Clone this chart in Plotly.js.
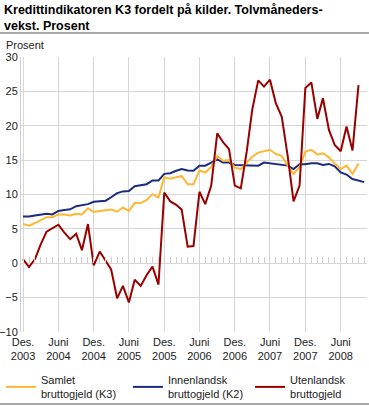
<!DOCTYPE html>
<html>
<head>
<meta charset="utf-8">
<script src="https://cdn.plot.ly/plotly-3.0.1.min.js"></script>
<style>html,body{margin:0;padding:0;background:#fff;}#chart{width:369px;height:407px;}</style>
</head>
<body>
<div id="chart"></div>
<script>
const months = [
  '2003-12-01',
  '2004-01-01','2004-02-01','2004-03-01','2004-04-01','2004-05-01','2004-06-01',
  '2004-07-01','2004-08-01','2004-09-01','2004-10-01','2004-11-01','2004-12-01',
  '2005-01-01','2005-02-01','2005-03-01','2005-04-01','2005-05-01','2005-06-01',
  '2005-07-01','2005-08-01','2005-09-01','2005-10-01','2005-11-01','2005-12-01',
  '2006-01-01','2006-02-01','2006-03-01','2006-04-01','2006-05-01','2006-06-01',
  '2006-07-01','2006-08-01','2006-09-01','2006-10-01','2006-11-01','2006-12-01',
  '2007-01-01','2007-02-01','2007-03-01','2007-04-01','2007-05-01','2007-06-01',
  '2007-07-01','2007-08-01','2007-09-01','2007-10-01','2007-11-01','2007-12-01',
  '2008-01-01','2008-02-01','2008-03-01','2008-04-01','2008-05-01','2008-06-01',
  '2008-07-01','2008-08-01','2008-09-01','2008-10-01'
];

const samletK3 = [
  5.7, 5.45, 5.85, 6.3, 6.7, 6.7, 7.1, 7.1, 6.95, 7.2, 7.1, 8.0, 7.45,
  7.6, 7.7, 7.8, 7.5, 8.1, 7.6, 8.75, 8.75, 9.2, 10.05, 9.55, 12.5,
  12.3, 12.5, 12.7, 11.5, 11.5, 13.5, 13.2, 14.0, 15.6, 14.9, 15.0, 13.9,
  13.7, 14.65, 15.5, 16.1, 16.3, 16.5, 15.9, 15.6, 14.2, 13.0, 14.0, 16.25,
  16.5, 15.8, 16.0, 15.4, 14.5, 13.7, 14.2, 13.0, 14.5
];

const innenlandskK2 = [
  6.8, 6.8, 6.95, 7.05, 7.2, 7.1, 7.6, 7.75, 7.85, 8.3, 8.5, 8.6, 8.95,
  9.0, 9.1, 9.6, 10.2, 10.45, 10.5, 11.2, 11.3, 11.5, 12.05, 12.05, 13.0,
  13.1, 13.45, 13.7, 13.5, 13.45, 14.2, 14.2, 14.65, 15.1, 14.65, 14.65, 14.3,
  14.3, 14.3, 14.3, 14.2, 14.65, 14.55, 14.45, 14.4, 14.2, 13.7, 14.4, 14.4,
  14.55, 14.55, 14.3, 14.45, 14.1, 13.2, 12.9, 12.25, 12.05, 11.8
];

const utenlandsk = [
  0.6, -0.55, 0.6, 2.7, 4.6, 5.1, 5.6, 4.5, 3.5, 4.3, 1.9, 5.7, -0.3,
  1.7, 0.4, -0.9, -5.1, -3.3, -5.7, -2.4, -3.3, -1.7, -0.5, -3.1, 10.3,
  9.0, 8.5, 7.8, 2.4, 2.5, 10.4, 8.6, 11.3, 18.9, 17.6, 16.6, 11.3,
  10.9, 16.3, 22.3, 26.6, 25.7, 26.7, 23.3, 21.3, 15.5, 9.0, 11.3, 25.5,
  26.3, 21.0, 24.0, 19.4, 17.2, 16.3, 19.9, 16.4, 25.9
];

const seriesNames = ['Samlet<br>bruttogjeld (K3)', 'Innenlandsk<br>bruttogjeld (K2)', 'Utenlandsk<br>bruttogjeld'];

const tickDates = ['2003-12-01','2004-06-01','2004-12-01','2005-06-01','2005-12-01','2006-06-01','2006-12-01','2007-06-01','2007-12-01','2008-06-01'];
const tickLabels = ['Des.<br>2003','Juni<br>2004','Des.<br>2004','Juni<br>2005','Des.<br>2005','Juni<br>2006','Des.<br>2006','Juni<br>2007','Des.<br>2007','Juni<br>2008'];
const yTicks = [-10, -5, 0, 5, 10, 15, 20, 25, 30];

const xRange = ['2003-11-20 14:00', '2008-10-15'];
const FONT = 'Liberation Sans, Arial, sans-serif';

const traces = [
  {x: months.slice(0, innenlandskK2.length), y: innenlandskK2, name: seriesNames[1], type: 'scatter', mode: 'lines',
   line: {color: '#1b2c7e', width: 2}, legend: 'legend2', hoverinfo: 'skip'},
  {x: months.slice(0, samletK3.length), y: samletK3, name: seriesNames[0], type: 'scatter', mode: 'lines',
   line: {color: '#ffb733', width: 2}, legend: 'legend', hoverinfo: 'skip'},
  {x: months.slice(0, utenlandsk.length), y: utenlandsk, name: seriesNames[2], type: 'scatter', mode: 'lines',
   line: {color: '#990000', width: 2}, legend: 'legend3', xaxis: 'x2', hoverinfo: 'skip'}
];

const legendBase = {
  orientation: 'v', xanchor: 'left', y: -0.124, yanchor: 'top',
  font: {family: FONT, size: 11, color: '#222'}, bgcolor: 'rgba(0,0,0,0)', borderwidth: 0
};

const layout = {
  width: 369, height: 407,
  margin: {l: 21, r: 2, t: 57, b: 75, autoexpand: false},
  paper_bgcolor: '#fff', plot_bgcolor: '#fff',
  font: {family: FONT, size: 11, color: '#222'},
  showlegend: true,
  legend: Object.assign({}, legendBase, {x: -0.058}),
  legend2: Object.assign({}, legendBase, {x: 0.309}),
  legend3: Object.assign({}, legendBase, {x: 0.662}),
  xaxis: {
    type: 'date', range: xRange,
    tickmode: 'array', tickvals: tickDates, ticktext: tickLabels,
    showgrid: true, gridcolor: '#d6d6d6', gridwidth: 1,
    ticks: '', showline: false, zeroline: false, ticklabelstandoff: 2,
    tickfont: {family: FONT, size: 11, color: '#222'}
  },
  xaxis2: {
    type: 'date', range: xRange, overlaying: 'x', anchor: 'free', position: 0.25, side: 'bottom',
    tickmode: 'linear', tick0: '2003-12-01', dtick: 'M1',
    ticks: 'inside', ticklen: 6, tickwidth: 1, tickcolor: '#cfcfcf',
    showticklabels: false, showgrid: false, zeroline: false, showline: false
  },
  yaxis: {
    range: [-10, 30], tickmode: 'array', tickvals: yTicks,
    showgrid: true, gridcolor: '#d6d6d6', gridwidth: 1,
    showline: true, linecolor: '#cfcfcf', linewidth: 1,
    zeroline: false, ticks: '',
    tickfont: {family: FONT, size: 11, color: '#222'}
  },
  annotations: [
    {text: '<b>Kredittindikatoren K3 fordelt på kilder. Tolvmåneders-<br>vekst. Prosent</b>',
     xref: 'paper', yref: 'paper', x: -0.055, y: 1.205, xanchor: 'left', yanchor: 'top', align: 'left',
     showarrow: false, font: {family: FONT, size: 12.5, color: '#000'}},
    {text: 'Prosent', xref: 'paper', yref: 'paper', x: -0.048, y: 1, xanchor: 'left', yanchor: 'bottom',
     yshift: 4, showarrow: false, font: {family: FONT, size: 11, color: '#222'}}
  ],
  shapes: [
    {type: 'line', xref: 'paper', yref: 'paper', x0: -0.061, x1: 1.006, y0: 1.087, y1: 1.087,
     line: {color: '#8c8c8c', width: 1.5}},
    {type: 'line', xref: 'paper', yref: 'paper', x0: -0.061, x1: 1.006, y0: -0.262, y1: -0.262,
     line: {color: '#8c8c8c', width: 1.5}}
  ]
};

Plotly.newPlot('chart', traces, layout, {displayModeBar: false, staticPlot: true});
</script>
</body>
</html>
